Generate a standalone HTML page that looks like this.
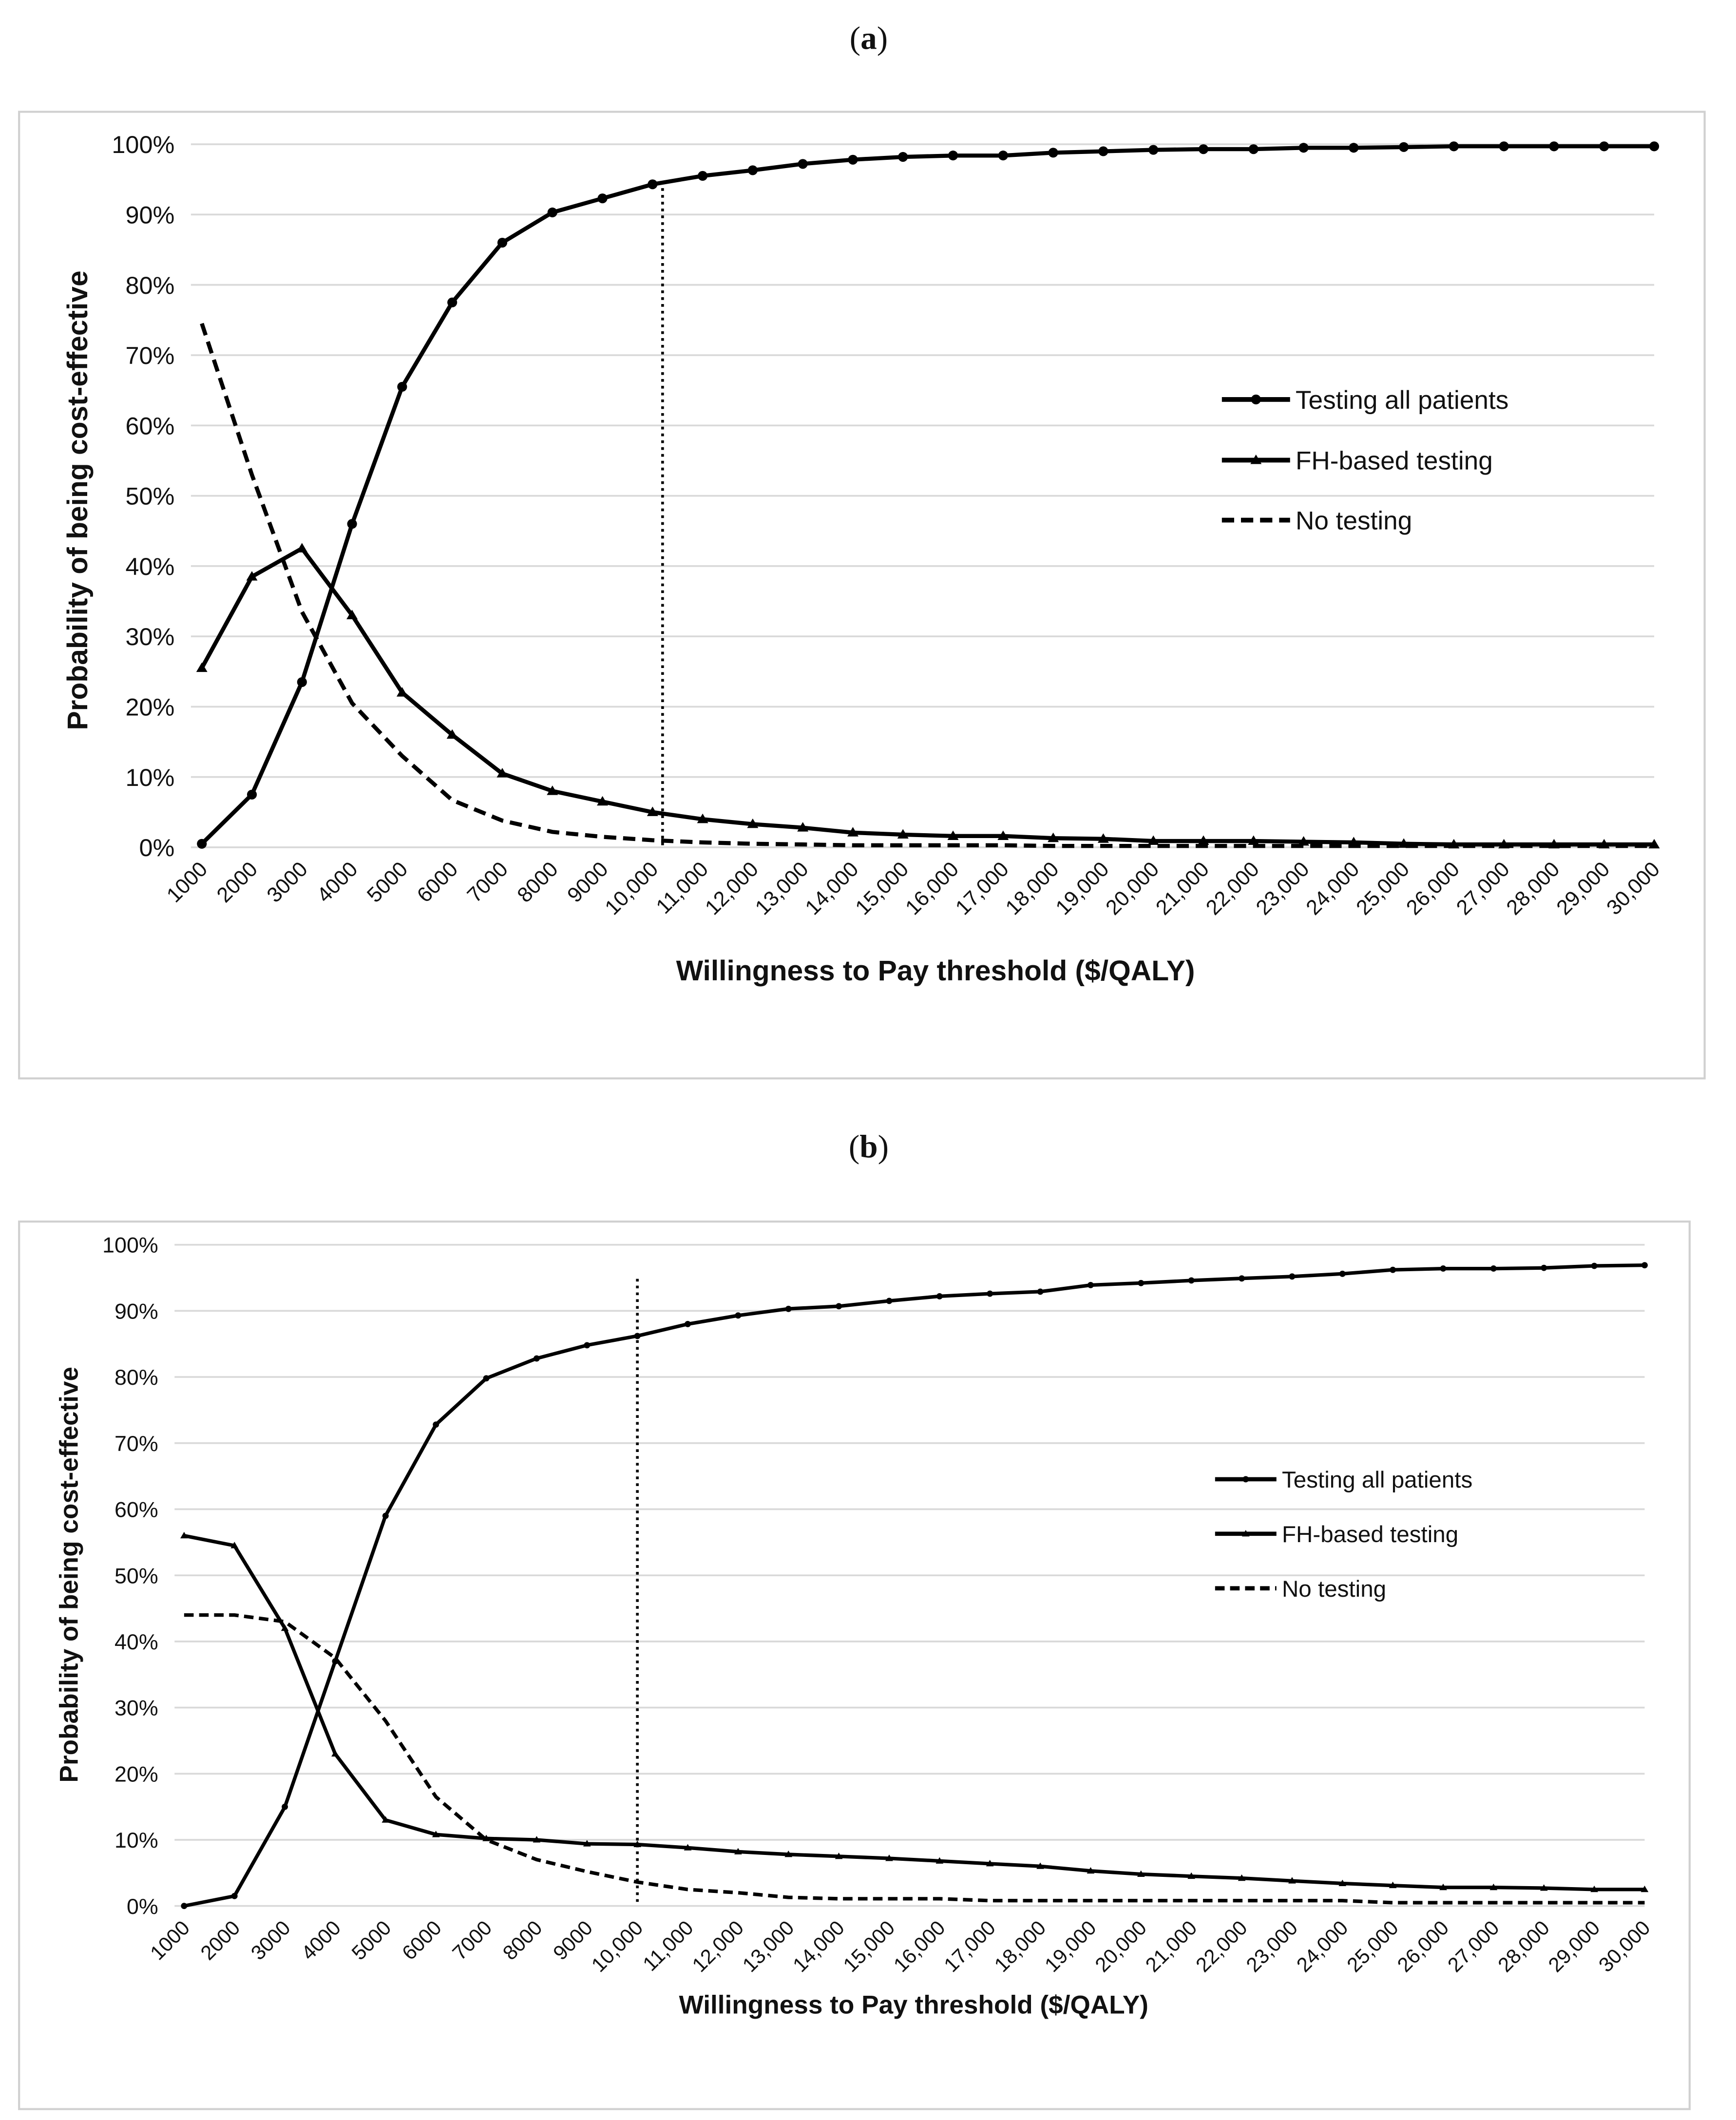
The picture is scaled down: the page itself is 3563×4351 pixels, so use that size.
<!DOCTYPE html>
<html><head><meta charset="utf-8"><style>
html,body{margin:0;padding:0;background:#fff}
svg{display:block}
text{font-family:"Liberation Sans",sans-serif;fill:#111}
</style></head><body>
<svg id="fig" width="3563" height="4351" viewBox="0 0 1273 1555" preserveAspectRatio="none" xmlns="http://www.w3.org/2000/svg">
<text x="637" y="36" text-anchor="middle" style="font-family:'Liberation Serif',serif;font-size:24px">(<tspan font-weight="bold">a</tspan>)</text>
<text x="637" y="849" text-anchor="middle" style="font-family:'Liberation Serif',serif;font-size:24px">(<tspan font-weight="bold">b</tspan>)</text>
<g id="pa"></g>
<g id="pb"></g>
</svg>
<script>
const categories = ["1000","2000","3000","4000","5000","6000","7000","8000","9000","10,000","11,000","12,000","13,000","14,000","15,000","16,000","17,000","18,000","19,000","20,000","21,000","22,000","23,000","24,000","25,000","26,000","27,000","28,000","29,000","30,000"];
const yTicks = [0,10,20,30,40,50,60,70,80,90,100];
const seriesNames = ["Testing all patients","FH-based testing","No testing"];
const aTestAll = [0.5,7.5,23.5,46,65.5,77.5,86,90.3,92.3,94.3,95.5,96.3,97.2,97.8,98.2,98.4,98.4,98.8,99,99.2,99.3,99.3,99.5,99.5,99.6,99.7,99.7,99.7,99.7,99.7];
const aFH = [25.5,38.5,42.5,33,22,16,10.5,8,6.5,5,4,3.3,2.8,2.1,1.8,1.6,1.6,1.3,1.2,0.9,0.9,0.9,0.8,0.7,0.5,0.4,0.4,0.4,0.4,0.4];
const aNone = [74.5,53,33.5,20.5,13,6.7,3.8,2.2,1.5,1,0.7,0.5,0.4,0.3,0.3,0.3,0.3,0.2,0.2,0.2,0.2,0.2,0.2,0.2,0.2,0.2,0.2,0.2,0.2,0.2];
const bTestAll = [0,1.5,15,37,59,72.8,79.8,82.8,84.8,86.2,88,89.3,90.3,90.7,91.5,92.2,92.6,92.9,93.9,94.2,94.6,94.9,95.2,95.6,96.2,96.4,96.4,96.5,96.8,96.9];
const bFH = [56,54.5,42,23,13,10.8,10.2,10,9.4,9.3,8.8,8.2,7.8,7.5,7.2,6.8,6.4,6,5.3,4.8,4.5,4.2,3.8,3.4,3.1,2.8,2.8,2.7,2.5,2.5];
const bNone = [44,44,43,37.5,28,16.5,10,7,5.2,3.6,2.5,2,1.3,1.1,1.1,1.1,0.8,0.8,0.8,0.8,0.8,0.8,0.8,0.8,0.5,0.5,0.5,0.5,0.5,0.5];
const aThreshold = 10200;
const bThreshold = 10000;

const NS="http://www.w3.org/2000/svg";
function mk(parent,tag,attrs){const e=document.createElementNS(NS,tag);for(const k in attrs)e.setAttribute(k,attrs[k]);parent.appendChild(e);return e;}

function draw(g,cfg,s1,s2,s3,thr){
  const xs=i=>cfg.x0+(cfg.x1-cfg.x0)*i/(categories.length-1);
  const xv=v=>cfg.x0+(cfg.x1-cfg.x0)*(v-1000)/29000;
  const ys=v=>cfg.y0+(cfg.y100-cfg.y0)*v/100;
  const fr=mk(g,'rect',{x:cfg.fx,y:cfg.fy,width:cfg.fw,height:cfg.fh,fill:'#fff',stroke:'#d0d0d0','stroke-width':1.5});
  
  
  yTicks.forEach(t=>{
    const l=mk(g,'line',{x1:cfg.gx,x2:cfg.x1,y1:ys(t),y2:ys(t),stroke:'#d9d9d9','stroke-width':1.3});
    
    
    const tx=mk(g,'text',{x:cfg.ylx,y:ys(t)+cfg.yfs*0.36,'text-anchor':'end','font-size':cfg.yfs});
    tx.textContent=t+'%';
    
    
  });
  categories.forEach((c,i)=>{
    const x=xs(i)+5, y=cfg.y0+17;
    const tx=mk(g,'text',{x:x,y:y,'text-anchor':'end','font-size':cfg.xfs,transform:`rotate(-45 ${x} ${y})`});
    tx.textContent=c;
    
    
  });
  const yt=mk(g,'text',{x:cfg.ytx,y:cfg.yty,'text-anchor':'middle','font-size':cfg.tfs,'font-weight':'bold',transform:`rotate(-90 ${cfg.ytx} ${cfg.yty})`});
  yt.textContent='Probability of being cost-effective';
  
  
  const xt=mk(g,'text',{x:cfg.xtx,y:cfg.xty,'text-anchor':'middle','font-size':cfg.tfs,'font-weight':'bold'});
  xt.textContent='Willingness to Pay threshold ($/QALY)';
  
  
  const vl=mk(g,'line',{x1:xv(thr),x2:xv(thr),y1:cfg.vtop,y2:cfg.y0,stroke:'#000','stroke-width':2,'stroke-dasharray':'2 3'});
  
  
  const series=[[s3,'none'],[s2,'tri'],[s1,'dot']];
  series.forEach(([arr,kind])=>{
    const d=arr.map((v,i)=>(i?'L':'M')+xs(i).toFixed(1)+' '+ys(v).toFixed(1)).join(' ');
    const p=mk(g,'path',{d:d,fill:'none',stroke:'#000','stroke-width':cfg.lw,'stroke-linejoin':'round','stroke-dasharray':kind==='none'?cfg.dash:'none'});
    
    
    if(kind!=='none'){
      arr.forEach((v,i)=>{
        let m;
        if(kind==='dot') m=mk(g,'circle',{cx:xs(i),cy:ys(v),r:cfg.mr,fill:'#000'});
        else {const x=xs(i),y=ys(v),r=cfg.mr+0.5;m=mk(g,'polygon',{points:`${x},${y-r} ${x+r},${y+r*0.7} ${x-r},${y+r*0.7}`,fill:'#000'});}
        
        
      });
    }
  });
  seriesNames.forEach((n,k)=>{
    const y=cfg.legY[k];
    const l=mk(g,'line',{x1:cfg.legX0,x2:cfg.legX1,y1:y,y2:y,stroke:'#000','stroke-width':cfg.lw+0.5,'stroke-dasharray':k===2?cfg.dash:'none'});
    
    
    const mx=(cfg.legX0+cfg.legX1)/2;
    if(k===0){const c=mk(g,'circle',{cx:mx,cy:y,r:cfg.mr,fill:'#000'});}
    if(k===1){const r=cfg.mr+0.5;const c=mk(g,'polygon',{points:`${mx},${y-r} ${mx+r},${y+r*0.7} ${mx-r},${y+r*0.7}`,fill:'#000'});}
    const t=mk(g,'text',{x:cfg.legX1+4,y:y+cfg.lfs*0.36,'font-size':cfg.lfs,fill:'#444'});
    t.textContent=n;
    
    
  });
}
draw(document.getElementById('pa'),{fx:14,fy:82,fw:1236,fh:709,x0:148,x1:1213,y0:621.5,y100:105.8,gx:140,ylx:128,yfs:18,xfs:15.5,tfs:21,ytx:64,yty:367,xtx:686,xty:719,vtop:133,lw:3,mr:3.6,dash:'9 5',legX0:896,legX1:946,legY:[293,337.5,381.5],lfs:19},aTestAll,aFH,aNone,aThreshold);
draw(document.getElementById('pb'),{fx:14,fy:896,fw:1225,fh:651,x0:135,x1:1206,y0:1398,y100:913,gx:128,ylx:116,yfs:16,xfs:15,tfs:19,ytx:57,yty:1155,xtx:670,xty:1477,vtop:938,lw:2.6,mr:2.3,dash:'7 4',legX0:891,legX1:936,legY:[1085,1125,1165],lfs:17},bTestAll,bFH,bNone,bThreshold);
</script>
</body></html>
